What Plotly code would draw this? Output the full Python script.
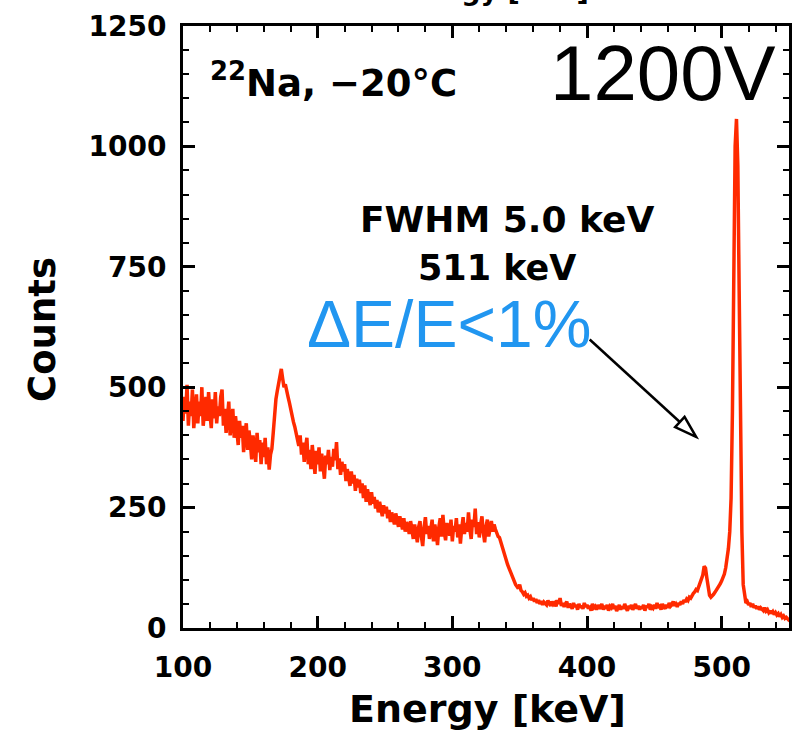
import numpy as np
import plotly.graph_objects as go

# Energy grid (keV), 1 keV channels starting at 100 keV
energy_start = 100
energy_step = 1

# Counts (rows of 10 channels)
counts = [
    430, 480, 445, 505, 420, 470, 440, 495, 415, 460,   # 100
    485, 425, 470, 440, 500, 420, 455, 480, 430, 490,   # 110
    445, 415, 475, 435, 490, 425, 460, 440, 480, 495,   # 120
    420, 455, 405, 445, 470, 400, 435, 455, 395, 440,   # 130
    410, 380, 430, 395, 420, 365, 405, 425, 370, 410,   # 140
    385, 350, 400, 375, 345, 405, 365, 390, 340, 385,   # 150
    355, 395, 340, 375, 329, 360, 372, 405, 445, 475,   # 160
    492, 505, 522, 538, 518, 500, 506, 488, 480, 468,   # 170
    452, 442, 428, 418, 402, 392, 378, 400, 360, 385,   # 180
    345, 375, 395, 340, 370, 330, 380, 350, 320, 368,   # 190
    340, 375, 325, 362, 335, 310, 358, 340, 370, 328,   # 200
    355, 335, 372, 348, 386, 330, 352, 318, 345, 325,   # 210
    340, 305, 330, 312, 295, 325, 300, 318, 285, 310,   # 220
    292, 308, 280, 300, 270, 296, 262, 288, 275, 255,   # 230
    282, 258, 272, 248, 266, 240, 262, 250, 232, 255,   # 240
    238, 252, 228, 245, 220, 240, 230, 215, 238, 222,   # 250
    210, 232, 215, 205, 228, 200, 220, 212, 195, 222,   # 260
    205, 185, 215, 195, 178, 210, 222, 190, 170, 208,   # 270
    230, 195, 212, 185, 205, 225, 180, 215, 198, 172,   # 280
    210, 228, 190, 235, 200, 182, 218, 205, 192, 225,   # 290
    180, 212, 200, 228, 188, 215, 175, 208, 230, 195,   # 300
    218, 200, 240, 205, 185, 225, 210, 248, 195, 220,   # 310
    188, 215, 232, 198, 178, 210, 225, 190, 205, 222,   # 320
    200, 215, 205, 198, 190, 188, 178, 168, 158, 148,   # 330
    140, 132, 125, 118, 108, 100, 95, 90, 86, 82,       # 340
    90, 78, 75, 70, 73, 66, 68, 62, 65, 58,             # 350
    62, 55, 60, 52, 58, 50, 56, 48, 54, 52,             # 360
    48, 57, 50, 46, 55, 49, 52, 45, 58, 50,             # 370
    62, 46, 52, 44, 50, 55, 42, 50, 46, 40,             # 380
    52, 44, 48, 38, 50, 42, 46, 40, 52, 44,             # 390
    48, 40, 46, 36, 50, 42, 45, 38, 48, 40,             # 400
    44, 50, 38, 46, 40, 48, 36, 45, 42, 50,             # 410
    40, 46, 35, 44, 48, 38, 45, 40, 50, 42,             # 420
    36, 46, 40, 48, 38, 44, 50, 40, 46, 38,             # 430
    45, 40, 48, 36, 46, 42, 50, 38, 44, 41,             # 440
    48, 40, 52, 42, 45, 38, 50, 44, 40, 48,             # 450
    42, 52, 45, 48, 55, 46, 50, 44, 52, 48,             # 460
    55, 50, 58, 54, 60, 57, 64, 62, 68, 72,             # 470
    75, 80, 78, 85, 92, 100, 110, 128, 124, 104,        # 480
    80, 68, 64, 66, 70, 74, 78, 82, 86, 92,             # 490
    98, 104, 112, 125, 140, 165, 200, 270, 450, 730,    # 500
    1000, 1057, 960, 700, 410, 200, 90, 62, 52, 55,     # 510
    48, 52, 44, 50, 42, 46, 40, 45, 38, 42,             # 520
    40, 36, 42, 35, 38, 32, 36, 30, 34, 28,             # 530
    32, 27, 30, 24, 28, 22, 25, 20, 22, 18,             # 540
    16, 15,                                             # 550
]
energy = energy_start + energy_step * np.arange(len(counts))

x_range = [100, 550]
y_range = [0, 1250]
x_tickvals = [100, 200, 300, 400, 500]
y_tickvals = [0, 250, 500, 750, 1000, 1250]

W, H = 799, 733
ML, MR, MT, MB = 183, 10, 26, 105
pw, ph = W - ML - MR, H - MT - MB
sx = pw / (x_range[1] - x_range[0])   # px per keV
sy = ph / (y_range[1] - y_range[0])   # px per count

FONT = "DejaVu Sans"
RED = "#ff2a00"
BLUE = "#2196f0"

fig = go.Figure()
fig.add_trace(go.Scatter(x=energy, y=counts, mode="lines",
                         line=dict(color=RED, width=3.5), showlegend=False,
                         hoverinfo="x+y"))

axis_common = dict(
    showline=True, linecolor="black", linewidth=3, mirror="ticks",
    ticks="inside", ticklen=12, tickwidth=3, tickcolor="black",
    showgrid=False, zeroline=False, automargin=False,
    tickfont=dict(family=FONT, size=28, color="black", weight="bold"),
)
fig.update_xaxes(range=x_range, tickvals=x_tickvals, ticklabelstandoff=12,
                 minor=dict(dtick=20, ticks="inside", ticklen=6, tickwidth=2,
                            tickcolor="black", tick0=100),
                 **axis_common)
fig.update_yaxes(range=y_range, tickvals=y_tickvals, ticklabelstandoff=8,
                 minor=dict(dtick=50, ticks="inside", ticklen=6, tickwidth=2,
                            tickcolor="black", tick0=0),
                 **axis_common)

def px_to_paper_x(px):
    return (px - ML) / pw

def px_to_paper_y(py):
    return (H - MB - py) / ph

annotations = [
    dict(text="Energy [keV]", xref="paper", yref="paper",
         x=px_to_paper_x(487), y=px_to_paper_y(709), showarrow=False,
         font=dict(family=FONT, size=38, color="black", weight="bold"),
         xanchor="center", yanchor="middle"),
    dict(text="Counts", xref="paper", yref="paper",
         x=px_to_paper_x(42), y=px_to_paper_y(330), showarrow=False,
         textangle=-90,
         font=dict(family=FONT, size=37, color="black", weight="bold"),
         xanchor="center", yanchor="middle"),
    # cut-off title of the panel above
    dict(text="Energy [keV]", xref="paper", yref="paper",
         x=px_to_paper_x(490), y=px_to_paper_y(-9), showarrow=False,
         font=dict(family=FONT, size=27, color="black", weight="bold"),
         xanchor="center", yanchor="middle"),
    dict(text="<sup>22</sup>Na, \u221220\u00b0C", xref="paper", yref="paper",
         x=px_to_paper_x(208), y=px_to_paper_y(80), showarrow=False,
         font=dict(family=FONT, size=37, color="black", weight="bold"),
         xanchor="left", yanchor="middle"),
    dict(text="1200V", xref="paper", yref="paper",
         x=px_to_paper_x(778), y=px_to_paper_y(73), showarrow=False,
         font=dict(family="Liberation Sans Narrow, Liberation Sans", size=78,
                   color="black"),
         xanchor="right", yanchor="middle"),
    dict(text="FWHM 5.0 keV", xref="paper", yref="paper",
         x=px_to_paper_x(507), y=px_to_paper_y(219), showarrow=False,
         font=dict(family=FONT, size=36, color="black", weight="bold"),
         xanchor="center", yanchor="middle"),
    dict(text="511 keV", xref="paper", yref="paper",
         x=px_to_paper_x(497), y=px_to_paper_y(268), showarrow=False,
         font=dict(family=FONT, size=35, color="black", weight="bold"),
         xanchor="center", yanchor="middle"),
    dict(text="\u0394E/E<1%", xref="paper", yref="paper",
         x=px_to_paper_x(449), y=px_to_paper_y(324), showarrow=False,
         font=dict(family="Liberation Sans", size=66, color=BLUE),
         xanchor="center", yanchor="middle"),
]

# Arrow from the label towards the photopeak (data coordinates)
arrow_tail = (402, 599)
arrow_tip = (481, 397)
dxp = (arrow_tip[0] - arrow_tail[0]) * sx
dyp = -(arrow_tip[1] - arrow_tail[1]) * sy
L = np.hypot(dxp, dyp)
ux, uy = dxp / L, dyp / L
head_len, head_half = 22, 7
bx, by = -ux * head_len, -uy * head_len          # pixel offset tip->base centre
c1 = (bx - uy * head_half, by + ux * head_half)
c2 = (bx + uy * head_half, by - ux * head_half)

def off(p):
    return (arrow_tip[0] + p[0] / sx, arrow_tip[1] - p[1] / sy)

base = off((bx, by))
p1, p2 = off(c1), off(c2)
shapes = [
    dict(type="line", xref="x", yref="y", x0=arrow_tail[0], y0=arrow_tail[1],
         x1=base[0], y1=base[1], line=dict(color="black", width=2.5)),
    dict(type="path", xref="x", yref="y",
         path=f"M {arrow_tip[0]},{arrow_tip[1]} L {p1[0]},{p1[1]} L {p2[0]},{p2[1]} Z",
         fillcolor="white", line=dict(color="black", width=2.5)),
]

fig.update_layout(
    width=W, height=H,
    margin=dict(l=ML, r=MR, t=MT, b=MB),
    paper_bgcolor="white", plot_bgcolor="white",
    annotations=annotations, shapes=shapes,
    showlegend=False,
)

fig.write_html("out.html",
               config={"displayModeBar": False},
               post_script="document.body.style.margin='0';"
                           "document.body.style.overflow='hidden';")
